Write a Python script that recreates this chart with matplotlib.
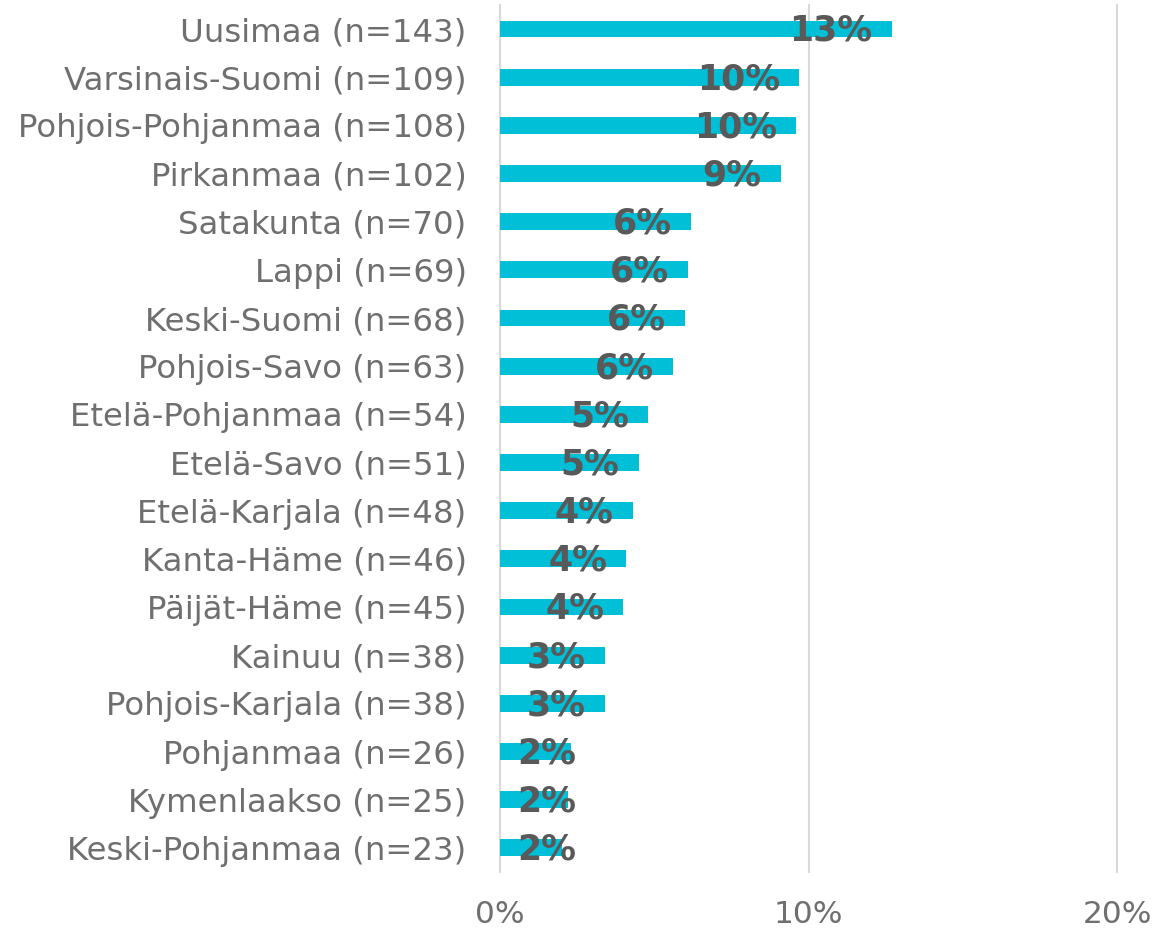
import matplotlib.pyplot as plt

# regions and share of respondents (%)
regions = ["Uusimaa (n=143)", "Varsinais-Suomi (n=109)", "Pohjois-Pohjanmaa (n=108)",
           "Pirkanmaa (n=102)", "Satakunta (n=70)", "Lappi (n=69)", "Keski-Suomi (n=68)",
           "Pohjois-Savo (n=63)", "Etelä-Pohjanmaa (n=54)", "Etelä-Savo (n=51)",
           "Etelä-Karjala (n=48)", "Kanta-Häme (n=46)", "Päijät-Häme (n=45)",
           "Kainuu (n=38)", "Pohjois-Karjala (n=38)", "Pohjanmaa (n=26)",
           "Kymenlaakso (n=25)", "Keski-Pohjanmaa (n=23)"]
values = [12.7, 9.7, 9.6, 9.1, 6.2, 6.1, 6.0, 5.6, 4.8, 4.5, 4.3, 4.1, 4.0, 3.4, 3.4, 2.3, 2.2, 2.0]
labels = ["13%", "10%", "10%", "9%", "6%", "6%", "6%", "6%", "5%", "5%",
          "4%", "4%", "4%", "3%", "3%", "2%", "2%", "2%"]
xticks = [0, 10, 20]
xticklabels = ["0%", "10%", "20%"]

plt.rcParams['font.family'] = ['DejaVu Sans']

fig = plt.figure(figsize=(11.55, 9.3), dpi=100)
ax = fig.add_axes([0.4329, 0.0624, 0.5342, 0.9323])

y = list(range(len(regions)))
ax.barh(y, values, height=0.35, color="#00BFD6", zorder=2)

ax.set_xlim(0, 20)
ax.set_ylim(len(regions) - 0.5, -0.5)
ax.set_yticks(y)
ax.set_yticklabels(regions, fontsize=23.3, color="#6F6F6F")
ax.set_xticks(xticks)
ax.set_xticklabels(xticklabels, fontsize=22.5, color="#6F6F6F")
ax.tick_params(axis="both", length=0)
ax.tick_params(axis="y", pad=24)
ax.tick_params(axis="x", pad=20)
for s in ax.spines.values():
    s.set_visible(False)
# vertical gridlines, not clipped so the 0% line shows at full width
for xt in xticks:
    ax.axvline(xt, color="#D9D9D9", linewidth=1.5, zorder=0, clip_on=False)

# data labels: inside end, pushed right if they would cross the axis
for yi, v, lab in zip(y, values, labels):
    if v < 3:
        ax.text(0.55, yi + 0.04, lab, ha="left", va="center", fontsize=25,
                fontweight="bold", color="#595959", zorder=3)
    else:
        ax.text(v - 0.62, yi + 0.04, lab, ha="right", va="center", fontsize=25,
                fontweight="bold", color="#595959", zorder=3)

fig.savefig("out.png", dpi=100)
